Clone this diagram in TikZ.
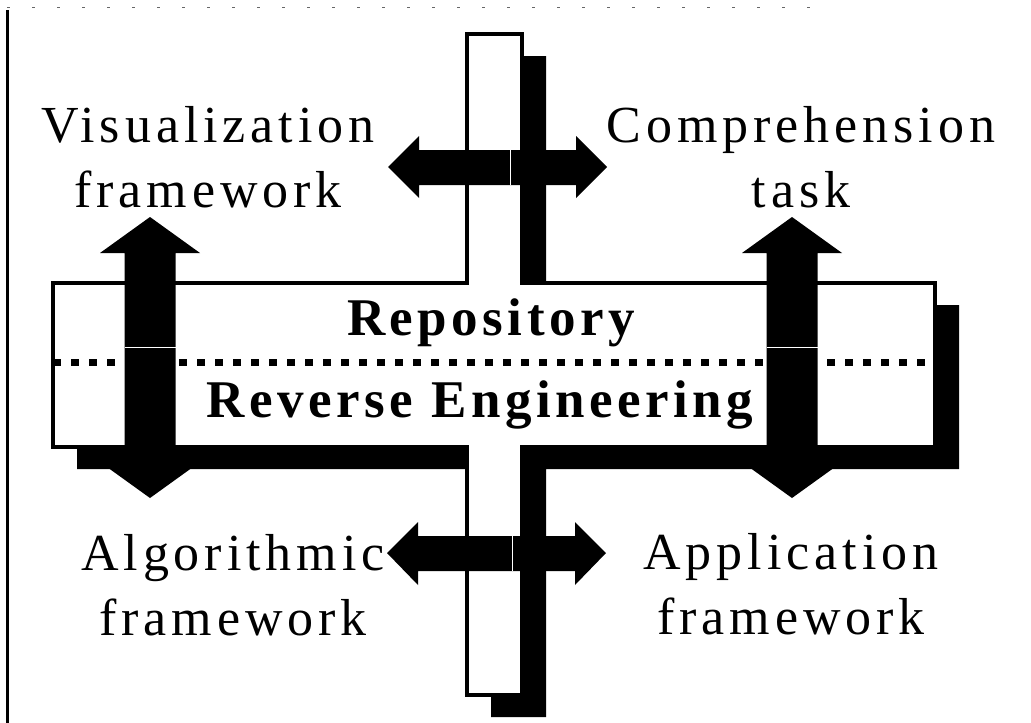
\documentclass[tikz,border=0pt]{standalone}
\usepackage{fontspec}
\setmainfont{Liberation Serif}
\newfontfamily\labelfont[LetterSpace=9.5]{Liberation Serif}
\newfontfamily\titlefont[LetterSpace=8.5]{Liberation Serif}
\usepackage{tikz}

\tikzset{
  labeltext/.style={font=\labelfont\fontsize{52}{65}\selectfont, align=center, inner sep=0pt},
  titletext/.style={font=\titlefont\bfseries\fontsize{53}{60}\selectfont, inner sep=0pt},
  barline/.style={draw=black, fill=white, line width=3.5pt, line join=miter},
  sepline/.style={line width=7pt, dash pattern=on 8pt off 10pt},
  arrowfill/.style={fill=black},
  gapline/.style={white, line width=1pt}
}

\begin{document}
\begin{tikzpicture}[x=1pt, y=-1pt]
  \useasboundingbox (0,0) rectangle (1031,723);

  % frame
  \draw[line width=3pt] (7,10) -- (7,723);
  \draw[black!60, line width=1pt, dash pattern=on 3pt off 22pt] (7,7) -- (820,7);

  % cross with its shadow
  \fill[black, shift={(24,22)}] (467,34) -- (522,34) -- (522,283) -- (935,283) -- (935,447)
    -- (522,447) -- (522,695) -- (467,695) -- (467,447) -- (53,447) -- (53,283) -- (467,283) -- cycle;
  \path[barline] (467,34) -- (522,34) -- (522,283) -- (935,283) -- (935,447)
    -- (522,447) -- (522,695) -- (467,695) -- (467,447) -- (53,447) -- (53,283) -- (467,283) -- cycle;
  \draw[sepline] (53,362) -- (935,362);

  \node[titletext, anchor=base] (repolabel) at (491,335) {Repository};
  \node[titletext, anchor=base] (revlabel) at (480,417) {Reverse Engineering};

  % vertical arrows
  \foreach \cx in {150,792} {
    \fill[arrowfill] (\cx,217) -- ++(50,36) -- ++(-24.5,0) -- ++(0,209) -- ++(24.5,0)
      -- ++(-50,36) -- ++(-50,-36) -- ++(24.5,0) -- ++(0,-209) -- ++(-24.5,0) -- cycle;
    \draw[gapline] (\cx-25.5,347) -- (\cx+25.5,347);
  }

  % horizontal arrows
  \fill[arrowfill] (388,167) -- (419,136) -- (419,150) -- (576,150) -- (576,136) -- (607,167)
    -- (576,198) -- (576,185) -- (419,185) -- (419,198) -- cycle;
  \draw[gapline] (510,150) -- (510,185);
  \fill[arrowfill] (387,553) -- (418,522) -- (418,536) -- (575,536) -- (575,522) -- (606,553)
    -- (575,585) -- (575,571) -- (418,571) -- (418,585) -- cycle;
  \draw[gapline] (512,536) -- (512,571);

  % labels (base = last line)
  \node[labeltext, anchor=base] (vislabel) at (208,207) {Visualization\\framework};
  \node[labeltext, anchor=base] (complabel) at (801,207) {Comprehension\\task};
  \node[labeltext, anchor=base] (alglabel) at (233,635) {Algorithmic\\framework};
  \node[labeltext, anchor=base] (applabel) at (791,634) {Application\\framework};
\end{tikzpicture}
\end{document}
